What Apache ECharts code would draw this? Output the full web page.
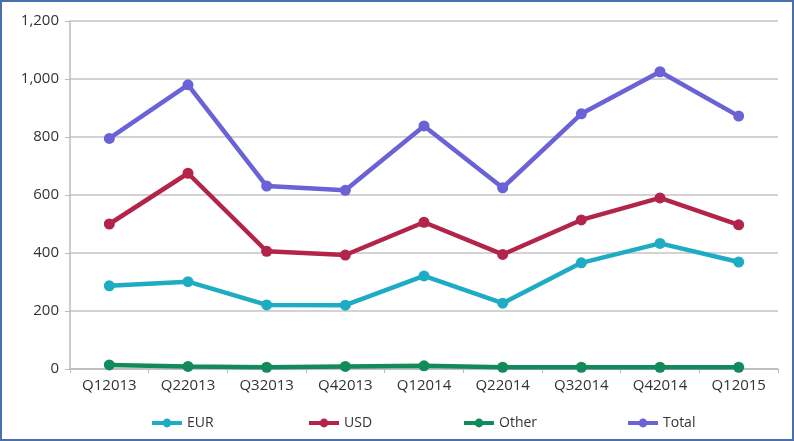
<!DOCTYPE html>
<html>
<head>
<meta charset="utf-8">
<script src="https://cdn.jsdelivr.net/npm/echarts@6/dist/echarts.min.js"></script>
<style>
  html, body { margin: 0; padding: 0; background: #fff; }
  #frame { position: absolute; left: 0; top: 0; width: 790px; height: 437px; border: 2px solid #4a6fae; }
  #chart { width: 790px; height: 437px; }
</style>
</head>
<body>
<div id="frame"><div id="chart"></div></div>
<script>
// quarters
const categories = ['Q12013', 'Q22013', 'Q32013', 'Q42013', 'Q12014', 'Q22014', 'Q32014', 'Q42014', 'Q12015'];
const eurValues = [287, 301, 221, 220, 321, 227, 366, 433, 369];
const usdValues = [500, 675, 406, 393, 506, 395, 514, 590, 497];
const otherValues = [14, 9, 6, 9, 11, 6, 6, 6, 6];
const totalValues = [795, 980, 631, 616, 838, 625, 880, 1025, 872];
const seriesNames = ['EUR', 'USD', 'Other', 'Total'];
const yTicks = { min: 0, max: 1200, interval: 200 };

const colors = { EUR: '#1eacc4', USD: '#b3244b', Other: '#138a5b', Total: '#6a62d6' };
// legend item left edges (px)
const legendLeft = [143, 300, 455, 619];

function mkSeries(name, data) {
  return {
    name: name,
    type: 'line',
    data: data,
    symbol: 'circle',
    symbolSize: 11,
    lineStyle: { width: 4.5, color: colors[name] },
    itemStyle: { color: colors[name] },
    animation: false
  };
}

const myChart = echarts.init(document.getElementById('chart'));
const option = {
  backgroundColor: '#fff',
  textStyle: { fontFamily: 'Open Sans, sans-serif' },
  grid: { left: 68, right: 14, top: 19, bottom: 70 },
  legend: seriesNames.map(function (n, i) {
    return {
      left: legendLeft[i],
      bottom: 4,
      itemWidth: 30,
      itemHeight: 11,
      itemGap: 0,
      lineStyle: { width: 4 },
      textStyle: { fontSize: 14, color: '#333' },
      data: [n]
    };
  }),
  xAxis: {
    type: 'category',
    data: categories,
    boundaryGap: true,
    axisLine: { lineStyle: { color: '#bbb', width: 1.5 } },
    axisTick: { show: true, length: 4, lineStyle: { color: '#bbb' } },
    axisLabel: { color: '#333', fontSize: 15, margin: 9 }
  },
  yAxis: {
    type: 'value',
    min: yTicks.min,
    max: yTicks.max,
    interval: yTicks.interval,
    axisLine: { show: true, lineStyle: { color: '#bbb', width: 1.5 } },
    axisTick: { show: true, length: 5, lineStyle: { color: '#bbb' } },
    splitLine: { lineStyle: { color: '#c4c4c4', width: 1.5 } },
    axisLabel: {
      color: '#333', fontSize: 15, margin: 11,
      formatter: function (v) { return v.toLocaleString('en-US'); }
    }
  },
  series: [
    mkSeries('EUR', eurValues),
    mkSeries('USD', usdValues),
    mkSeries('Other', otherValues),
    mkSeries('Total', totalValues)
  ]
};
myChart.setOption(option);
</script>
</body>
</html>
